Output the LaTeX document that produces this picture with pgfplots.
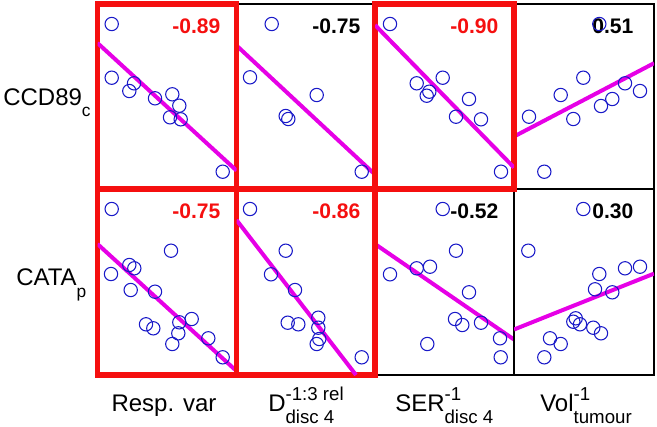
\documentclass[border=0pt]{standalone}
\usepackage{pgfplots}
\pgfplotsset{compat=1.18}
\usepackage{fontspec}
\setmainfont{Liberation Sans}
\definecolor{ptblue}{RGB}{25,25,200}
\definecolor{lnmag}{RGB}{230,0,230}
\definecolor{sigred}{RGB}{245,15,15}
\newcommand\px{0.75pt}
\newcommand\supsub[2]{\rlap{\raisebox{8.25pt}{\fontsize{14}{14}\selectfont #1}}\raisebox{-9pt}{\fontsize{14}{14}\selectfont #2}}
\pgfplotsset{
  panel/.style={scale only axis, y dir=reverse, xtick=\empty, ytick=\empty,
    anchor=north west, axis line style={black, line width=0.9pt}, clip=true},
  redpanel/.style={panel, axis line style={sigred, line width=4.3pt}},
  pts/.style={only marks, mark=o, mark size=5pt, color=ptblue, mark options={line width=0.8pt}},
  fit/.style={no marks, color=lnmag, line width=3pt},
}
\newcommand\val[3]{\node[anchor=base east, font=\fontsize{15.8}{16}\selectfont\bfseries, text=#3] at (axis cs:#1) {#2};}
\begin{document}
\begin{tikzpicture}
\path (0,0) rectangle ({657*\px},{-426*\px});
% ---- black panels first
% panel row1 col2
\begin{axis}[panel, at={({236.5*\px},{-4*\px})}, width=103.875pt, height=138.75pt,
  xmin=236.5, xmax=375, ymin=4, ymax=189]
\addplot[pts] coordinates {(271.7,24) (250,77.3) (316.7,95) (285.7,116) (288.3,119) (361.7,171.7)};
\addplot[fit] coordinates {(236.5,45.5) (375,174.5)};
\val{365,33}{-0.75}{black}
\end{axis}
% panel row1 col4
\begin{axis}[panel, at={({514*\px},{-4*\px})}, width=105pt, height=138.75pt,
  xmin=514, xmax=654, ymin=4, ymax=189]
\addplot[pts] coordinates {(599.3,24) (529,116.7) (544.3,171.7) (560.7,95) (583.3,77.7) (573.3,119) (601,106) (612.3,99) (625,83.3) (640,91)};
\addplot[fit] coordinates {(514,136.5) (654,63.2)};
\val{638,33}{0.51}{black}
\end{axis}
% panel row2 col3
\begin{axis}[panel, at={({375*\px},{-189*\px})}, width=104.25pt, height=139.5pt,
  xmin=375, xmax=514, ymin=189, ymax=375]
\addplot[pts] coordinates {(442.7,209) (456,250.7) (416.7,268.3) (430,266.7) (390,274.3) (469,292.3) (455,319) (462.3,325) (481,322.7) (500,338.3) (427.3,344) (500.7,357.3)};
\addplot[fit] coordinates {(375,244) (514,339.5)};
\val{503,218}{-0.52}{black}
\end{axis}
% panel row2 col4
\begin{axis}[panel, at={({514*\px},{-189*\px})}, width=105pt, height=139.5pt,
  xmin=514, xmax=654, ymin=189, ymax=375]
\addplot[pts] coordinates {(583.3,209) (528.3,250.7) (599.3,274) (625,268.3) (640,266.7) (595,289.3) (612.3,292.3) (575.7,318.3) (573.3,321.7) (580,324.3) (593.3,327.7) (601,333.3) (550,338.3) (560.7,344) (544.3,357.3)};
\addplot[fit] coordinates {(514,329.5) (654,273.6)};
\val{638,218}{0.30}{black}
\end{axis}
% ---- red panels
% panel row1 col1
\begin{axis}[redpanel, at={({97.5*\px},{-4*\px})}, width=104.25pt, height=138.75pt,
  xmin=97.5, xmax=236.5, ymin=4, ymax=189]
\addplot[pts] coordinates {(111.7,24) (111.7,77.7) (134,83.3) (129.3,91) (155,98.3) (172.3,94.3) (179.3,105.7) (170,117.3) (180.7,119.3) (222.7,171.7)};
\addplot[fit] coordinates {(97.5,43) (236.5,170.5)};
\val{225,33}{-0.89}{sigred}
\end{axis}
% panel row1 col3
\begin{axis}[redpanel, at={({375*\px},{-4*\px})}, width=104.25pt, height=138.75pt,
  xmin=375, xmax=514, ymin=4, ymax=189]
\addplot[pts] coordinates {(390,24) (416.7,83.3) (442.7,77.7) (429.3,91.7) (426.7,95.7) (469,99) (456,116.7) (481,119.3) (501,171.7)};
\addplot[fit] coordinates {(375,25) (514,167.5)};
\val{503,33}{-0.90}{sigred}
\end{axis}
% panel row2 col1
\begin{axis}[redpanel, at={({97.5*\px},{-189*\px})}, width=104.25pt, height=139.5pt,
  xmin=97.5, xmax=236.5, ymin=189, ymax=375]
\addplot[pts] coordinates {(111.7,209) (171,250.7) (129.3,265) (134.3,268.3) (111,274) (130.7,290) (155,291.7) (146,324.3) (153.3,328.3) (179.3,322.3) (191.7,319) (178.3,333.3) (172.3,344) (208.3,338.3) (222.7,357.3)};
\addplot[fit] coordinates {(97.5,244) (236.5,371)};
\val{225,218}{-0.75}{sigred}
\end{axis}
% panel row2 col2
\begin{axis}[redpanel, at={({236.5*\px},{-189*\px})}, width=103.875pt, height=139.5pt,
  xmin=236.5, xmax=375, ymin=189, ymax=375]
\addplot[pts] coordinates {(250,209) (285.7,250.7) (271,274.3) (295,290) (287.7,322.7) (298.3,324.3) (318.3,317.7) (318.3,327.7) (319.3,339) (316.7,344) (361.7,357.3)};
\addplot[fit] coordinates {(236.5,220) (356,375)};
\val{365,218}{-0.86}{sigred}
\end{axis}
% ---- row labels
\node[anchor=base west, inner sep=0pt] at ({3*\px},{-105*\px}) {\fontsize{18}{20}\selectfont CCD89\raisebox{-8.5pt}{\fontsize{13}{13}\selectfont c}};
\node[anchor=base west, inner sep=0pt] at ({16*\px},{-285*\px}) {\fontsize{18}{20}\selectfont CATA\raisebox{-9.5pt}{\fontsize{13}{13}\selectfont p}};
% ---- column labels
\node[anchor=base, inner sep=0pt] at ({164*\px},{-411*\px}) {\fontsize{18}{20}\selectfont Resp. var};
\node[anchor=base west, inner sep=0pt] at ({268*\px},{-411*\px}) {\fontsize{18}{20}\selectfont D\supsub{-1:3 rel}{disc 4}};
\node[anchor=base west, inner sep=0pt] at ({395*\px},{-411*\px}) {\fontsize{18}{20}\selectfont SER\supsub{-1}{disc 4}};
\node[anchor=base west, inner sep=0pt] at ({540*\px},{-411*\px}) {\fontsize{18}{20}\selectfont Vol\supsub{-1}{tumour}};
\end{tikzpicture}
\end{document}
